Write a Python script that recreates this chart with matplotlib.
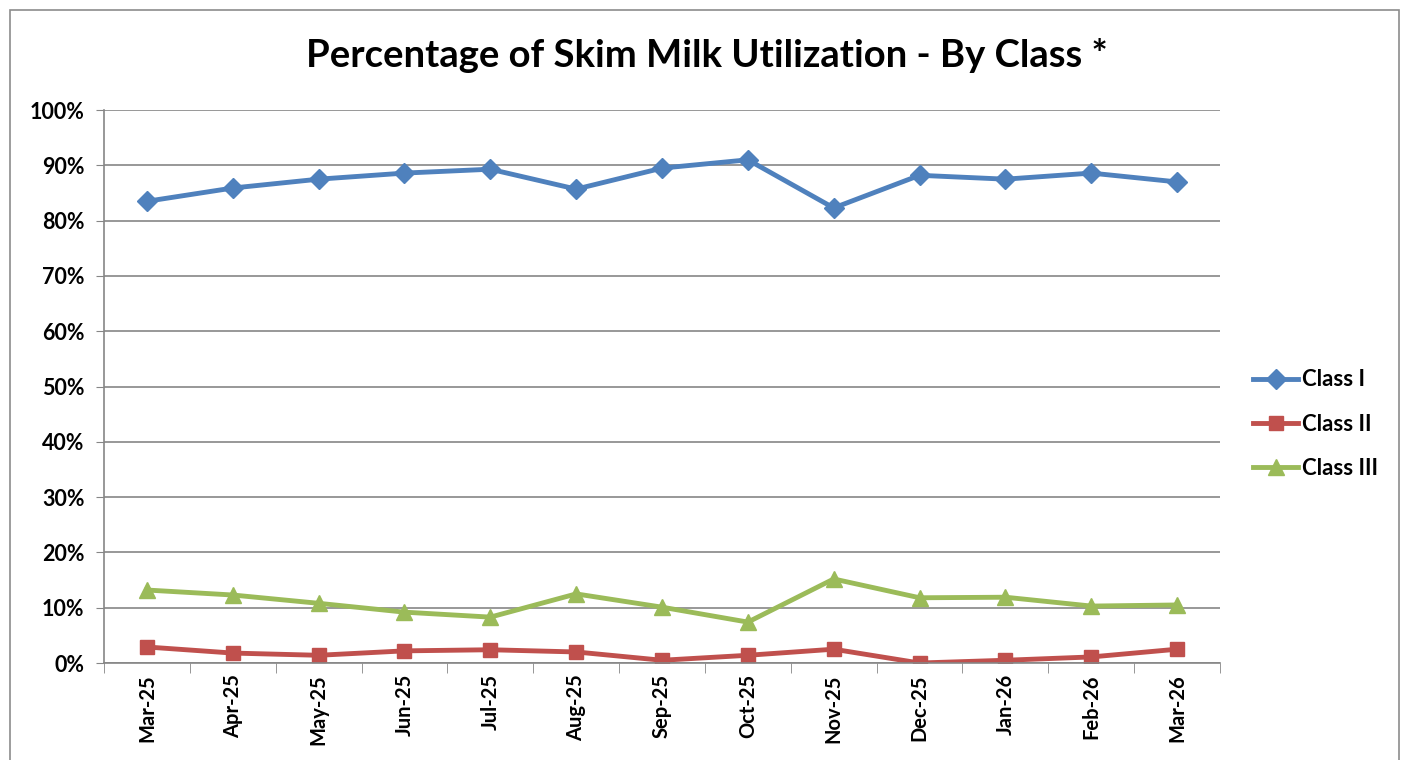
import matplotlib.pyplot as plt
from matplotlib.ticker import PercentFormatter
from matplotlib.patches import Rectangle

months = ['Mar-25', 'Apr-25', 'May-25', 'Jun-25', 'Jul-25', 'Aug-25', 'Sep-25',
          'Oct-25', 'Nov-25', 'Dec-25', 'Jan-26', 'Feb-26', 'Mar-26']
class_1 = [83.5, 85.9, 87.5, 88.6, 89.3, 85.7, 89.5, 91.0, 82.3, 88.2, 87.5, 88.6, 87.0]
class_2 = [2.9, 1.8, 1.4, 2.2, 2.4, 2.0, 0.5, 1.4, 2.5, 0.0, 0.5, 1.1, 2.5]
class_3 = [13.2, 12.3, 10.8, 9.2, 8.3, 12.5, 10.1, 7.4, 15.2, 11.8, 11.9, 10.3, 10.5]
y_ticks = list(range(0, 101, 10))

plt.rcParams['font.family'] = ['Lato', 'DejaVu Sans']
plt.rcParams['font.weight'] = 'bold'

fig = plt.figure(figsize=(14.09, 7.6), dpi=100)
ax = fig.add_axes([0.0738, 0.1276, 0.7921, 0.7276])

# outer chart frame
fig.patches.append(Rectangle((0.007, -0.01), 0.986, 0.997, transform=fig.transFigure,
                             fill=False, edgecolor='#8c8c8c', linewidth=1.2))

x = list(range(len(months)))
ax.plot(x, class_1, color='#4F81BD', lw=3.5, marker='D', markersize=10, label='Class I')
ax.plot(x, class_2, color='#C0504D', lw=3.5, marker='s', markersize=10, label='Class II')
ax.plot(x, class_3, color='#9BBB59', lw=3.5, marker='^', markersize=11, label='Class III')

ax.set_xlim(-0.5, len(months) - 0.5)
ax.set_ylim(0, 100)
ax.set_yticks(y_ticks)
ax.yaxis.set_major_formatter(PercentFormatter(decimals=0))
ax.set_xticks(x)
ax.set_xticklabels(months, rotation=90, fontsize=14.5, fontweight='bold')
ax.set_xticks([i - 0.5 for i in range(len(months) + 1)], minor=True)
ax.tick_params(axis='x', which='major', length=0, pad=8)
ax.tick_params(axis='x', which='minor', length=7, color='#868686', direction='out')
ax.tick_params(axis='y', length=6, color='#868686', labelsize=15.5, pad=8)
for lab in ax.get_yticklabels():
    lab.set_fontweight('bold')

ax.grid(axis='y', color='#868686', lw=1.2)
ax.set_axisbelow(True)
for side in ['top', 'right']:
    ax.spines[side].set_visible(False)
for side in ['left', 'bottom']:
    ax.spines[side].set_color('#868686')
    ax.spines[side].set_linewidth(1.2)

fig.text(0.502, 0.927, 'Percentage of Skim Milk Utilization - By Class *',
         ha='center', va='center', fontsize=27.5, fontweight='bold')

ax.legend(loc='center left', bbox_to_anchor=(1.012, 0.432), frameon=False,
          prop={'weight': 'bold', 'size': 16}, handlelength=2.0,
          labelspacing=1.05, handletextpad=0.2)

fig.savefig('out.png', dpi=100)
